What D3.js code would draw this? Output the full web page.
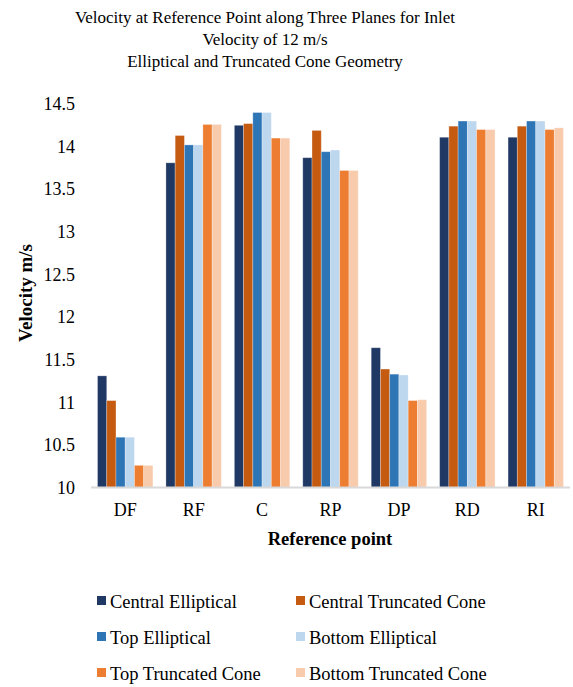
<!DOCTYPE html>
<html>
<head>
<meta charset="utf-8">
<script src="https://cdn.jsdelivr.net/npm/d3@7"></script>
<style>
  html, body { margin: 0; padding: 0; background: #fff; }
  svg { display: block; }
  svg text { font-family: "Liberation Serif", "Times New Roman", serif; fill: #000; }
</style>
</head>
<body>
<svg id="chart" width="573" height="687"></svg>
<script>
// Reference points along the flow path
const categories = ["DF", "RF", "C", "RP", "DP", "RD", "RI"];

// Velocity (m/s) per series, one value per reference point
const centralElliptical    = [11.31, 13.81, 14.25, 13.87, 11.64, 14.11, 14.11];
const centralTruncatedCone = [11.02, 14.13, 14.27, 14.19, 11.39, 14.24, 14.24];
const topElliptical        = [10.59, 14.02, 14.40, 13.94, 11.33, 14.30, 14.30];
const bottomElliptical     = [10.59, 14.02, 14.40, 13.96, 11.32, 14.30, 14.30];
const topTruncatedCone     = [10.26, 14.26, 14.10, 13.72, 11.02, 14.20, 14.20];
const bottomTruncatedCone  = [10.26, 14.26, 14.10, 13.72, 11.03, 14.20, 14.22];

const seriesNames = ["Central Elliptical", "Central Truncated Cone", "Top Elliptical",
                     "Bottom Elliptical", "Top Truncated Cone", "Bottom Truncated Cone"];
const seriesColors = ["#203864", "#c55a11", "#2e75b6", "#bdd7ee", "#ed7d31", "#f8cbad"];
const yTicks = [10, 10.5, 11, 11.5, 12, 12.5, 13, 13.5, 14, 14.5];

const seriesValues = [centralElliptical, centralTruncatedCone, topElliptical,
                      bottomElliptical, topTruncatedCone, bottomTruncatedCone];
const series = seriesNames.map((name, i) => ({ name, color: seriesColors[i], values: seriesValues[i] }));

const svg = d3.select("#chart");
const plot = { left: 91, right: 570, top: 104, bottom: 487.5 };

// Title
const title = ["Velocity at Reference Point along Three Planes for Inlet",
               "Velocity of 12 m/s",
               "Elliptical and Truncated Cone Geometry"];
svg.append("g").selectAll("text").data(title).join("text")
  .attr("x", 265).attr("y", (d, i) => 22.5 + i * 22)
  .attr("text-anchor", "middle").attr("font-size", 17)
  .text(d => d);

const x0 = d3.scaleBand().domain(categories).range([plot.left, plot.right])
  .paddingInner(0.19).paddingOuter(0.095);
const x1 = d3.scaleBand().domain(seriesNames).range([0, x0.bandwidth()]);
const y = d3.scaleLinear().domain([10, 14.5]).range([plot.bottom, plot.top]);

// Bars
const groups = svg.append("g").selectAll("g").data(categories).join("g")
  .attr("transform", d => `translate(${x0(d)},0)`);
groups.selectAll("rect")
  .data((c, ci) => series.map(s => ({ s, v: s.values[ci] })))
  .join("rect")
  .attr("x", d => x1(d.s.name))
  .attr("y", d => y(d.v))
  .attr("width", x1.bandwidth())
  .attr("height", d => y(10) - y(d.v))
  .attr("fill", d => d.s.color)
  .attr("stroke", "#ffffff").attr("stroke-opacity", 0.35).attr("stroke-width", 0.8);

// Y axis (labels only)
const yAxis = svg.append("g").attr("transform", `translate(${plot.left},0)`)
  .call(d3.axisLeft(y).tickValues(yTicks).tickSize(0).tickPadding(16).tickFormat(d3.format("")));
yAxis.select(".domain").remove();
yAxis.selectAll("text").attr("font-size", 18);

// X axis
const xAxis = svg.append("g").attr("transform", `translate(0,${plot.bottom})`)
  .call(d3.axisBottom(x0).tickSize(0).tickPadding(16));
xAxis.select(".domain").attr("stroke", "#d9d9d9").attr("stroke-width", 2)
  .attr("d", `M${plot.left},0H${plot.right}`);
xAxis.selectAll("text").attr("font-size", 18);

// Axis titles
svg.append("text").attr("x", 330).attr("y", 545)
  .attr("text-anchor", "middle").attr("font-size", 18.5).attr("font-weight", "bold")
  .text("Reference point");
svg.append("text").attr("transform", "translate(32,293) rotate(-90)")
  .attr("text-anchor", "middle").attr("font-size", 19).attr("font-weight", "bold")
  .text("Velocity m/s");

// Legend
const legend = svg.append("g").selectAll("g").data(series).join("g")
  .attr("transform", (d, i) => `translate(${i % 2 === 0 ? 97 : 296},${601 + Math.floor(i / 2) * 36})`);
legend.append("rect").attr("x", 0).attr("y", -5).attr("width", 9).attr("height", 9)
  .attr("fill", d => d.color);
legend.append("text").attr("x", 13).attr("y", 6.5).attr("font-size", 18.5).text(d => d.name);
</script>
</body>
</html>
